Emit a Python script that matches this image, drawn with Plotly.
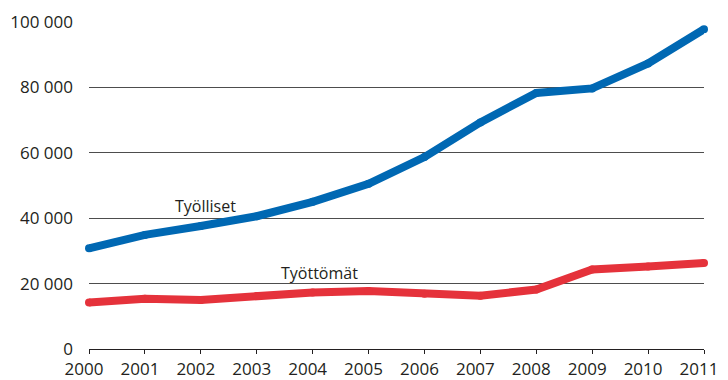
import plotly.graph_objects as go

years = list(range(2000, 2012))
tyolliset = [30800, 34900, 37600, 40600, 45000, 50500, 58700, 69300, 78300, 79700, 87300, 97800]
tyottomat = [14200, 15400, 15000, 16200, 17300, 17700, 16900, 16300, 18200, 24300, 25200, 26300]
y_ticks = [0, 20000, 40000, 60000, 80000, 100000]

BLUE = "#0068B3"
RED = "#E5323B"
INK = "#231f20"
FONT = "Open Sans"

fig = go.Figure()
for vals, col in ((tyolliset, BLUE), (tyottomat, RED)):
    fig.add_trace(go.Scatter(
        x=years, y=vals, mode="lines+markers",
        line=dict(color=col, width=8),
        marker=dict(color=col, size=8, line=dict(width=0)),
        cliponaxis=False, hoverinfo="skip", showlegend=False,
    ))

fig.add_annotation(x=2002.09, y=43700, text="Työlliset", showarrow=False,
                   font=dict(family=FONT, size=16, color=INK))
fig.add_annotation(x=2004.12, y=23100, text="Työttömät", showarrow=False,
                   font=dict(family=FONT, size=16, color=INK))

fig.update_layout(
    width=728, height=380,
    margin=dict(l=89, r=24, t=22, b=31),
    paper_bgcolor="white", plot_bgcolor="white",
    separators=", ",
    font=dict(family=FONT, size=17, color=INK),
    xaxis=dict(
        range=[2000, 2011], tickmode="array", tickvals=years,
        ticktext=[str(y) for y in years],
        showgrid=False, zeroline=False, automargin=False,
        showline=True, linecolor=INK, linewidth=1,
        ticks="outside", ticklen=4, tickcolor=INK, tickwidth=1,
        ticklabelshift=-5, ticklabelstandoff=1,
        tickfont=dict(family=FONT, size=17, color=INK),
    ),
    yaxis=dict(
        range=[0, 100000], tickmode="array", tickvals=y_ticks,
        tickformat=",d", automargin=False,
        showgrid=True, gridcolor="#4d4d4d", gridwidth=1,
        zeroline=False, showline=False, ticks="",
        ticklabelstandoff=15,
        tickfont=dict(family=FONT, size=17, color=INK),
    ),
)

fig.write_html("out.html")
